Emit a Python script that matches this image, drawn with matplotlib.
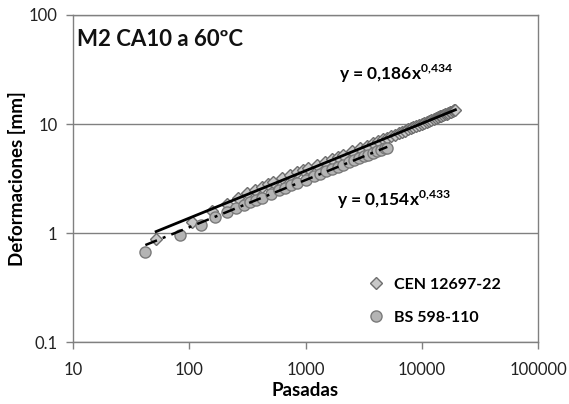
import matplotlib
matplotlib.use("Agg")
import matplotlib.pyplot as plt
import numpy as np

plt.rcParams['font.family'] = ['Lato', 'DejaVu Sans']
plt.rcParams['mathtext.fontset'] = 'custom'
plt.rcParams['mathtext.rm'] = 'Lato'
plt.rcParams['mathtext.bf'] = 'Lato:bold'

# Datos (pasadas, deformacion en mm)
pasadas_cen = [52, 105, 157, 210, 262, 315, 367, 420, 472, 525, 630, 735, 840, 945,
               1050, 1260, 1470, 1680, 1890, 2100, 2520, 2940, 3360, 3780, 4200,
               4620, 5040, 5460, 5880, 6300, 6720, 7140, 7560, 7980, 8400, 8925,
               9450, 9975, 10500, 11025, 11550, 12075, 12600, 13125, 13650, 14175,
               14700, 15225, 15750, 16275, 16800, 17325, 17850, 18375, 18900, 19400]
deform_cen = [0.88, 1.26, 1.58, 1.86, 2.10, 2.32, 2.50, 2.66, 2.82, 2.96, 3.20, 3.42,
              3.60, 3.78, 3.94, 4.24, 4.52, 4.77, 5.00, 5.22, 5.62, 6.00, 6.34, 6.66,
              6.96, 7.24, 7.50, 7.76, 8.00, 8.24, 8.48, 8.70, 8.92, 9.13, 9.33, 9.58,
              9.82, 10.05, 10.28, 10.50, 10.72, 10.93, 11.14, 11.34, 11.54, 11.73,
              11.92, 12.11, 12.29, 12.47, 12.65, 12.82, 12.99, 13.16, 13.32, 13.55]

pasadas_bs = [42, 84, 126, 168, 210, 252, 294, 336, 378, 420, 504, 588, 672, 756, 840,
              1008, 1176, 1344, 1512, 1680, 1890, 2100, 2352, 2604, 2856, 3150, 3444,
              3780, 4116, 4452, 4788, 5040]
deform_bs = [0.67, 0.97, 1.18, 1.40, 1.56, 1.70, 1.82, 1.93, 2.03, 2.12, 2.30, 2.46,
             2.60, 2.74, 2.86, 3.10, 3.31, 3.50, 3.69, 3.86, 4.06, 4.25, 4.46, 4.66,
             4.85, 5.05, 5.24, 5.45, 5.66, 5.84, 6.02, 6.05]

# Lineas de tendencia potenciales (Excel)
a_cen, b_cen = 0.186, 0.434
a_bs, b_bs = 0.154, 0.433

fig, ax = plt.subplots(figsize=(5.69, 4.04), dpi=100)
fig.subplots_adjust(left=0.128, right=0.946, bottom=0.153, top=0.963)

ax.plot(pasadas_cen, deform_cen, linestyle='none', marker='D', markersize=6.5,
        markerfacecolor='#c8c8c8', markeredgecolor='#6e6e6e', markeredgewidth=1.0,
        label='CEN 12697-22')
ax.plot(pasadas_bs, deform_bs, linestyle='none', marker='o', markersize=8,
        markerfacecolor='#b4b4b4', markeredgecolor='#7a7a7a', markeredgewidth=1.0,
        label='BS 598-110')

xc = np.geomspace(pasadas_cen[0], pasadas_cen[-1], 50)
ax.plot(xc, a_cen * xc ** b_cen, color='black', linewidth=2.0)
xb = np.geomspace(pasadas_bs[0], pasadas_bs[-1], 50)
ax.plot(xb, a_bs * xb ** b_bs, color='black', linewidth=1.8, linestyle=(0, (5, 2.5, 1.2, 2.5)))

ax.set_xscale('log')
ax.set_yscale('log')
ax.set_xlim(10, 100000)
ax.set_ylim(0.1, 100)
ax.set_xticks([10, 100, 1000, 10000, 100000])
ax.set_xticklabels(['10', '100', '1000', '10000', '100000'])
ax.set_yticks([0.1, 1, 10, 100])
ax.set_yticklabels(['0.1', '1', '10', '100'])
ax.minorticks_off()
ax.tick_params(axis='both', which='major', direction='out', length=5, width=1,
               color='#808080', labelsize=12, labelcolor='#222222')
ax.tick_params(axis='x', pad=9)
ax.tick_params(axis='y', pad=6)
ax.yaxis.grid(True, color='#808080', linewidth=1)
ax.set_axisbelow(True)
for s in ax.spines.values():
    s.set_color('#808080')
    s.set_linewidth(1)

ax.set_xlabel('Pasadas', fontsize=13.5, fontweight='bold', labelpad=3)
ax.set_ylabel('Deformaciones [mm]', fontsize=13.5, fontweight='bold', labelpad=2)

ax.text(0.01, 0.925, 'M2 CA10 a 60ºC', transform=ax.transAxes, fontsize=16,
        fontweight='bold', color='#111111', va='center', ha='left')
ax.text(0.695, 0.82, r'y = 0,186x$^{\mathbf{0{,}434}}$', transform=ax.transAxes,
        fontsize=12.5, fontweight='bold', ha='center', va='center')
ax.text(0.69, 0.435, r'y = 0,154x$^{\mathbf{0{,}433}}$', transform=ax.transAxes,
        fontsize=12.5, fontweight='bold', ha='center', va='center')

leg = ax.legend(loc='lower right', bbox_to_anchor=(0.95, 0.01), frameon=False,
                prop={'size': 11.5, 'weight': 'bold'}, handletextpad=0.5,
                labelspacing=1.15, handlelength=1.2)

fig.savefig('out.png', dpi=100)
